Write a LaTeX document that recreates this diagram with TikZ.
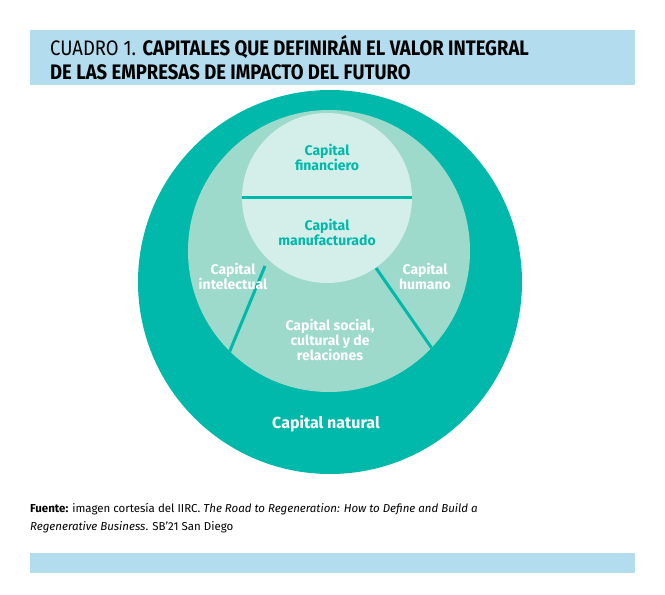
\documentclass[tikz,border=0pt]{standalone}
\usepackage{fontspec}
\setmainfont{Fira Sans}
\definecolor{band}{HTML}{B3DDEE}
\definecolor{outerc}{HTML}{00B9AA}
\definecolor{midc}{HTML}{9DDACB}
\definecolor{innc}{HTML}{D4EFE9}
\begin{document}
\begin{tikzpicture}[x=1pt,y=-1pt,
  lbl/.style={text=white,font=\bfseries\fontsize{14}{15}\selectfont,align=center},
  ilbl/.style={text=outerc,font=\bfseries\fontsize{14}{15}\selectfont,align=center},
  sep/.style={draw=outerc,line width=3pt}]
\useasboundingbox[fill=white] (0,0) rectangle (665,595);
\fill[band] (30,30) rectangle (635,85);
\fill[band] (30,553) rectangle (635,573);
\node[anchor=west,font=\fontsize{21}{23}\selectfont,inner sep=0] (t1) at (50,47) {\scalebox{0.88}[1]{CUADRO 1. \textbf{CAPITALES QUE DEFINIRÁN EL VALOR INTEGRAL}}};
\node[anchor=west,font=\bfseries\fontsize{21}{23}\selectfont,inner sep=0] (t2) at (50,72) {\scalebox{0.88}[1]{DE LAS EMPRESAS DE IMPACTO DEL FUTURO}};
\fill[outerc] (330,282) circle (192);
\fill[midc] (329,251) circle (141);
\begin{scope}
\clip (329,251) circle (141);
\draw[sep] (265,266) -- (222,370);
\draw[sep] (376,268) -- (440,360);
\end{scope}
\fill[innc] (327,198) circle (85);
\begin{scope}
\clip (327,198) circle (85);
\draw[sep] (240,197) -- (415,197);
\end{scope}
\node[ilbl] (fin) at (327,157) {Capital\\financiero};
\node[ilbl] (man) at (327,232) {Capital\\manufacturado};
\node[lbl] (int) at (233,276) {Capital\\intelectual};
\node[lbl] (hum) at (425,276) {Capital\\humano};
\node[lbl] (soc) at (330,340) {Capital social,\\cultural y de\\relaciones};
\node[lbl,font=\bfseries\fontsize{16}{18}\selectfont] (nat) at (326,424) {Capital natural};
\node[anchor=north west,align=left,font=\fontsize{11.5}{18}\selectfont,inner sep=0] (src) at (30,503)
 {\textbf{Fuente:} imagen cortesía del IIRC. \textit{The Road to Regeneration: How to Define and Build a}\\\textit{Regenerative Business}. SB'21 San Diego};
\end{tikzpicture}
\end{document}
